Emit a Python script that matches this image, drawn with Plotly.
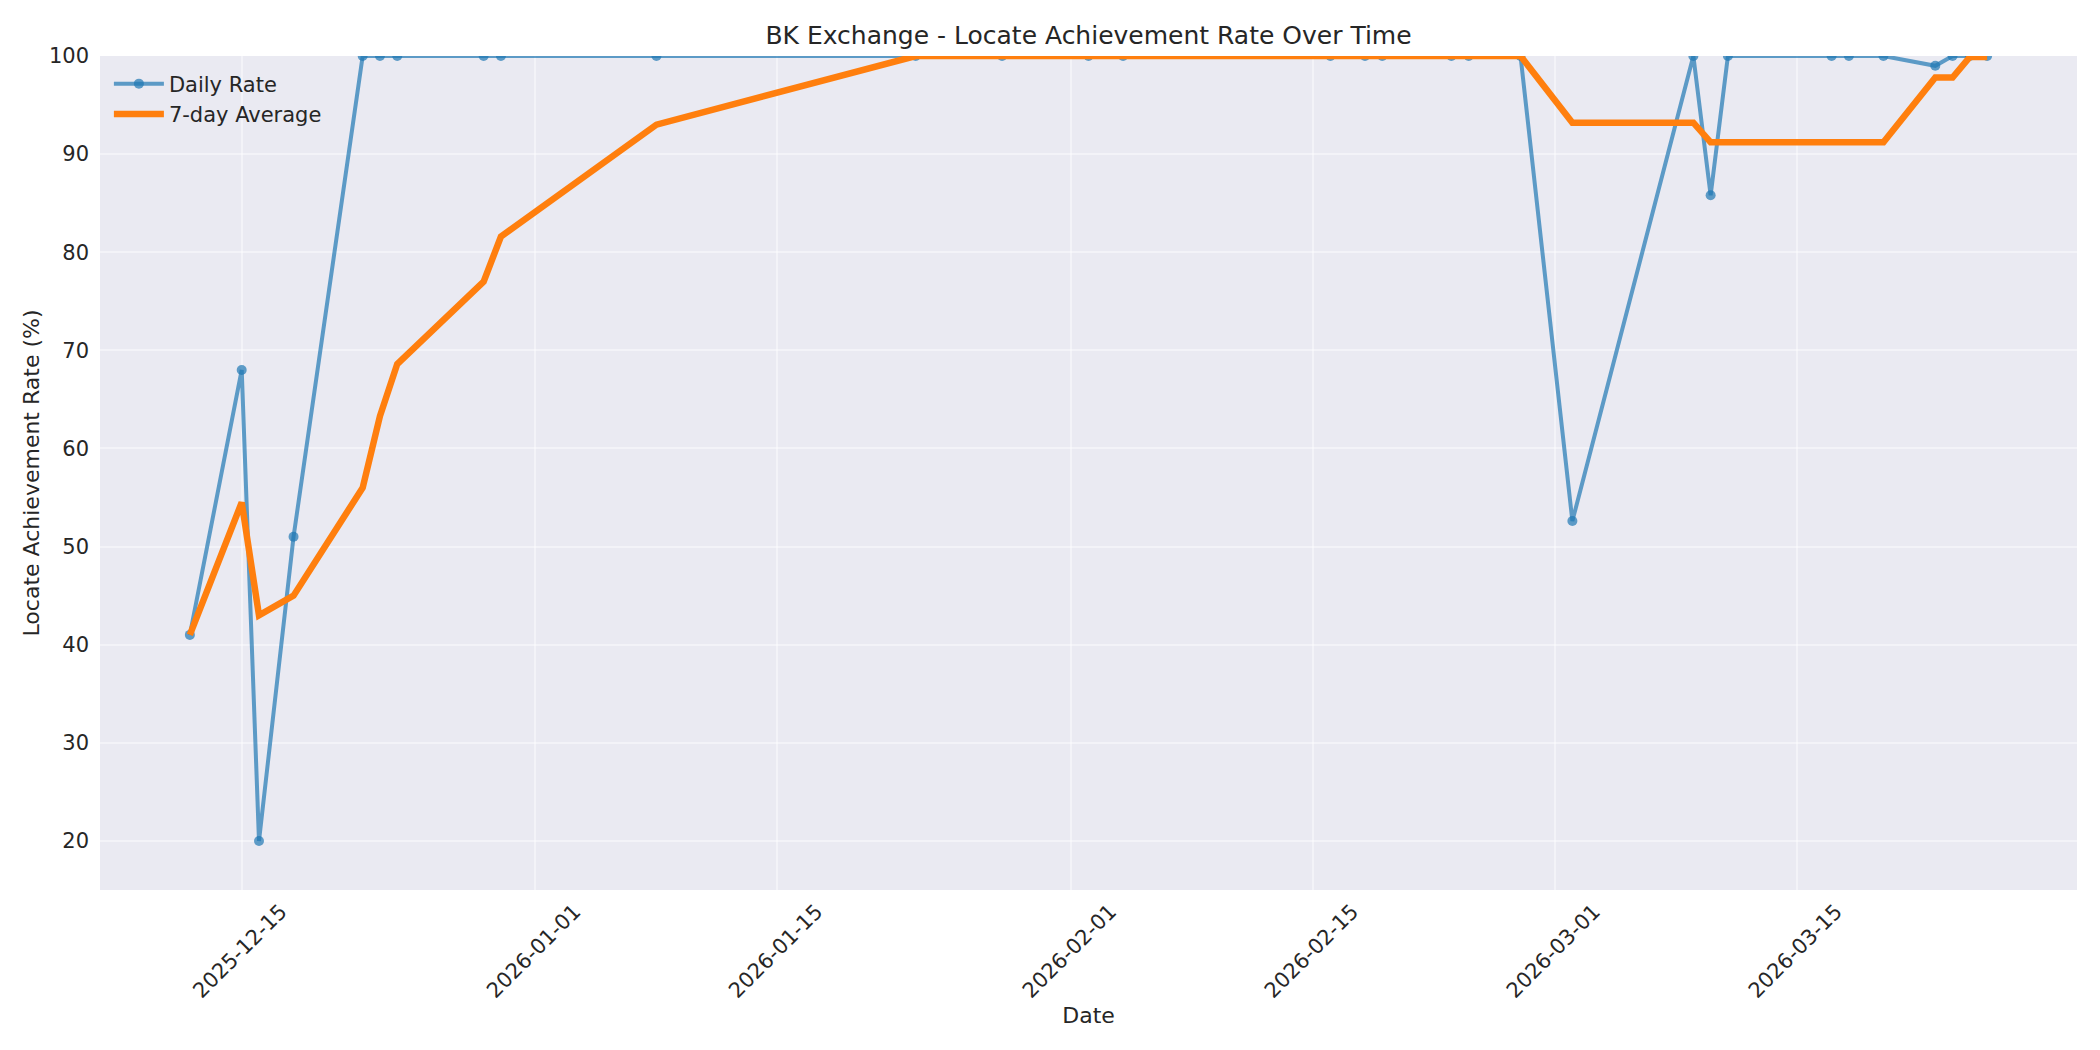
import pandas as pd
import plotly.graph_objects as go

# daily locate achievement rate (%)
dates = ["2025-12-12", "2025-12-15", "2025-12-16", "2025-12-18", "2025-12-22",
         "2025-12-23", "2025-12-24", "2025-12-29", "2025-12-30", "2026-01-08",
         "2026-01-23", "2026-01-28", "2026-02-02", "2026-02-04", "2026-02-16",
         "2026-02-18", "2026-02-19", "2026-02-23", "2026-02-24", "2026-02-27",
         "2026-03-02", "2026-03-09", "2026-03-10", "2026-03-11", "2026-03-17",
         "2026-03-18", "2026-03-20", "2026-03-23", "2026-03-24", "2026-03-25",
         "2026-03-26"]
daily_rate = [41.0, 68.0, 20.0, 51.0, 100, 100, 100, 100, 100, 100,
              100, 100, 100, 100, 100, 100, 100, 100, 100, 100,
              52.6, 100, 85.8, 100, 100, 100, 100, 99.0, 100, 100,
              100]
avg_7day = [41.0, 54.5, 43.0, 45.0, 56.0, 63.3, 68.6, 77.0, 81.6, 93.0,
            100, 100, 100, 100, 100, 100, 100, 100, 100, 100,
            93.2, 93.2, 91.2, 91.2, 91.2, 91.2, 91.2, 97.8, 97.8, 99.9,
            99.9]

tick_dates = ["2025-12-15", "2026-01-01", "2026-01-15", "2026-02-01",
              "2026-02-15", "2026-03-01", "2026-03-15"]
y_ticks = [20, 30, 40, 50, 60, 70, 80, 90, 100]

x = pd.to_datetime(dates)
pad = (x.max() - x.min()) * 0.05

text_col = "#262626"
font = "DejaVu Sans"
W, H = 2092, 1042  # page body has an 8px margin

fig = go.Figure()
fig.add_trace(go.Scatter(
    x=x, y=daily_rate, mode="lines+markers", name="Daily Rate",
    line=dict(color="rgba(31,119,180,0.7)", width=4),
    marker=dict(color="rgba(31,119,180,0.7)", size=10, line=dict(width=0)),
))
fig.add_trace(go.Scatter(
    x=x, y=avg_7day, mode="lines", name="7-day Average",
    line=dict(color="#ff7f0e", width=6.5),
))

fig.update_layout(
    width=W, height=H,
    margin=dict(l=92, r=23, t=48, b=160),
    paper_bgcolor="white", plot_bgcolor="#EAEAF2",
    font=dict(family=font, size=21, color=text_col),
    title=dict(text="BK Exchange - Locate Achievement Rate Over Time",
               x=(92 + W - 23) / 2 / W, xanchor="center",
               y=1 - 27 / H, yanchor="middle",
               font=dict(size=25, color=text_col)),
    showlegend=True,
    legend=dict(x=0.0045, y=0.991, xanchor="left", yanchor="top",
                bgcolor="rgba(0,0,0,0)", font=dict(size=21),
                itemwidth=50, tracegroupgap=2),
)
fig.update_xaxes(
    title=dict(text="Date", font=dict(size=22), standoff=5),
    range=[x.min() - pad, x.max() + pad],
    tickvals=pd.to_datetime(tick_dates), ticktext=tick_dates,
    tickangle=-45, ticklabelshift=39, ticklabelstandoff=4,
    showgrid=True, gridcolor="rgba(255,255,255,0.45)", gridwidth=2,
    zeroline=False, showline=False, ticks="",
)
fig.update_yaxes(
    title=dict(text="Locate Achievement Rate (%)", font=dict(size=22), standoff=3),
    range=[15, 100], tickvals=y_ticks, ticklabelstandoff=10,
    showgrid=True, gridcolor="rgba(255,255,255,0.45)", gridwidth=2,
    zeroline=False, showline=False, ticks="",
)

fig.write_html("out.html")
